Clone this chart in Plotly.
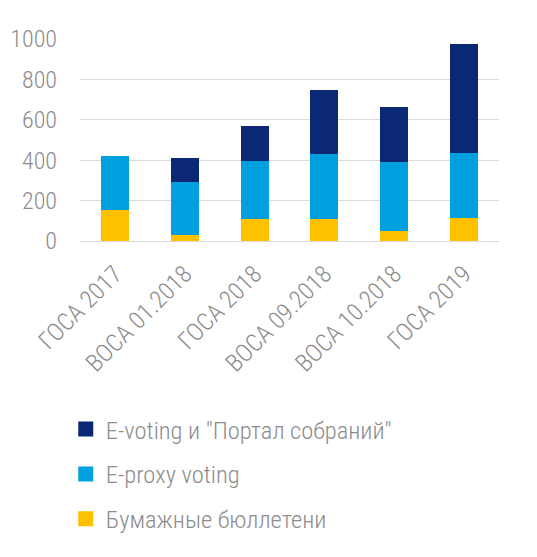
import plotly.graph_objects as go

# Meetings and votes received per channel
categories = ["ГОСА 2017", "ВОСА 01.2018", "ГОСА 2018", "ВОСА 09.2018", "ВОСА 10.2018", "ГОСА 2019"]
paper_ballots = [152, 28, 108, 108, 48, 113]
e_proxy = [270, 263, 288, 324, 344, 322]
e_voting = [0, 121, 172, 318, 270, 540]

series = [
    ("Бумажные бюллетени", paper_ballots, "#FFC000"),
    ("E-proxy voting", e_proxy, "#009FDF"),
    ("E-voting и \"Портал собраний\"", e_voting, "#0A2873"),
]

FONT = "Roboto Condensed, Liberation Sans Narrow, Roboto, sans-serif"
GREY = "#8c8c8c"

fig = go.Figure()
for name, vals, color in series:
    fig.add_trace(go.Bar(
        x=categories, y=vals, name=name, marker_color=color,
        marker_line_width=0, showlegend=False,
    ))
# Legend entries with larger square swatches, top series first
for name, vals, color in reversed(series):
    fig.add_trace(go.Scatter(
        x=categories[:1], y=[None], mode="markers", name=name,
        marker=dict(symbol="square", size=15, color=color),
        legendgroup=name, hoverinfo="skip",
    ))

fig.update_layout(
    width=537, height=557,
    barmode="stack", bargap=0.6,
    plot_bgcolor="white", paper_bgcolor="white",
    margin=dict(l=80, r=38, t=39, b=316, autoexpand=False),
    font=dict(family=FONT, color=GREY, size=22),
    showlegend=True,
    legend=dict(
        traceorder="grouped", tracegroupgap=10,
        x=-0.034, xanchor="left",
        y=-0.82, yanchor="top",
        font=dict(size=24.5, color=GREY, family=FONT, weight=300),
        itemwidth=30,
    ),
    xaxis=dict(
        tickangle=-45, tickfont=dict(size=24.5, color=GREY, weight=300),
        showline=False, showgrid=False, ticks="", automargin=False,
        ticklabelstandoff=13,
    ),
    yaxis=dict(
        range=[0, 1000], dtick=200, tickfont=dict(size=24, color=GREY, weight=300),
        gridcolor="#d9d9d9", gridwidth=1.3, zeroline=True,
        zerolinecolor="#d9d9d9", zerolinewidth=1.3,
        ticks="", ticklabelstandoff=22, automargin=False,
    ),
)

fig.write_html("out.html")
